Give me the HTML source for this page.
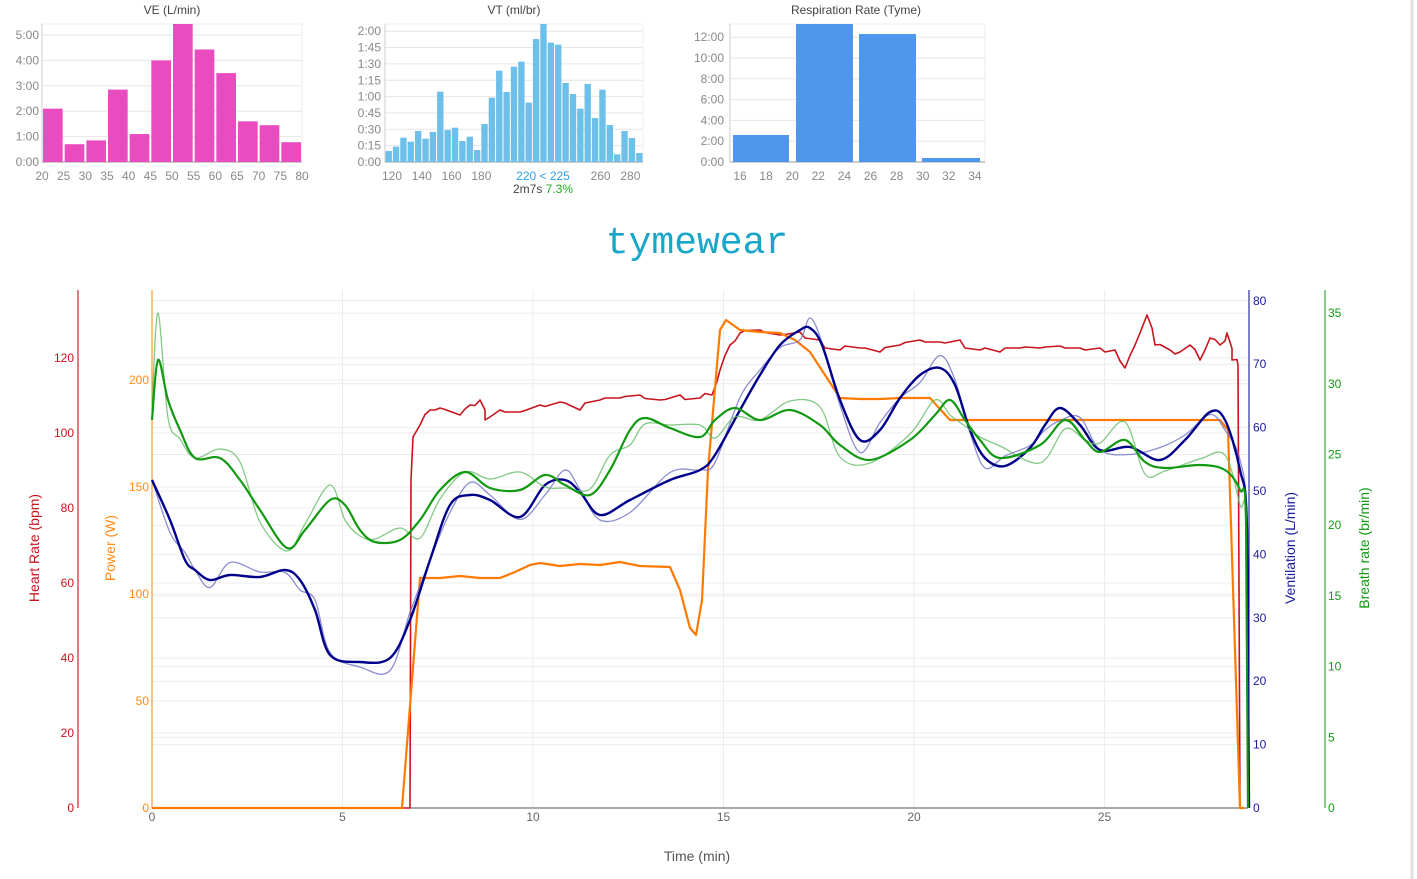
<!DOCTYPE html>
<html><head><meta charset="utf-8"><style>
body{margin:0;background:#fff;width:1417px;height:879px;overflow:hidden;font-family:"Liberation Sans",sans-serif}
svg{position:absolute;left:0;top:0}
</style></head><body>
<svg id="s" width="1417" height="879" xmlns="http://www.w3.org/2000/svg" font-family="Liberation Sans, sans-serif">
<line x1="1412" y1="0" x2="1412" y2="879" stroke="#e0e0e0" stroke-width="3"/>
<text x="172" y="14" font-size="12" fill="#444" text-anchor="middle">VE (L/min)</text>
<text x="514" y="14" font-size="12" fill="#444" text-anchor="middle">VT (ml/br)</text>
<text x="856" y="14" font-size="12" fill="#444" text-anchor="middle">Respiration Rate (Tyme)</text>
<text x="697" y="253" font-size="38" fill="#19a6c9" text-anchor="middle" font-family="Liberation Mono, monospace">tymewear</text>
<g id="g"></g>
<text x="697" y="861" font-size="14" fill="#555" text-anchor="middle">Time (min)</text>
<text transform="translate(39,548) rotate(-90)" font-size="14" fill="#c8141e" text-anchor="middle">Heart Rate (bpm)</text>
<text transform="translate(115,548) rotate(-90)" font-size="14" fill="#ff8a14" text-anchor="middle">Power (W)</text>
<text transform="translate(1295,548) rotate(-90)" font-size="14" fill="#1a1a9a" text-anchor="middle">Ventilation (L/min)</text>
<text transform="translate(1369,548) rotate(-90)" font-size="14" fill="#119911" text-anchor="middle">Breath rate (br/min)</text>
<text x="543" y="180" font-size="12" fill="#2aa0e6" text-anchor="middle">220 &lt; 225</text>
<text x="543" y="193" font-size="12" fill="#444" text-anchor="middle">2m7s <tspan fill="#22aa22">7.3%</tspan></text>
</svg>
<script>
var g=document.getElementById('g'),h='';
function L(x1,y1,x2,y2,c,w){h+='<line x1="'+x1+'" y1="'+y1+'" x2="'+x2+'" y2="'+y2+'" stroke="'+c+'" stroke-width="'+(w||1)+'"/>';}
function T(x,y,t,c,a,s){h+='<text x="'+x+'" y="'+y+'" font-size="'+(s||12)+'" fill="'+c+'" text-anchor="'+(a||'end')+'">'+t+'</text>';}
function R(x,y,w,hh,c){h+='<rect x="'+x+'" y="'+y+'" width="'+w+'" height="'+hh+'" fill="'+c+'"/>';}
function P(pts,c,w,o,sm){var d;
 if(sm){d='M'+pts[0][0]+' '+pts[0][1];for(var i=0;i<pts.length-1;i++){var p0=pts[Math.max(i-1,0)],p1=pts[i],p2=pts[i+1],p3=pts[Math.min(i+2,pts.length-1)];
  if(i>=pts.length-2){d+='L'+p2[0]+' '+p2[1];continue;}
  var c1x=p1[0]+(p2[0]-p0[0])/6,c1y=p1[1]+(p2[1]-p0[1])/6,c2x=p2[0]-(p3[0]-p1[0])/6,c2y=p2[1]-(p3[1]-p1[1])/6;
  d+='C'+c1x+' '+c1y+' '+c2x+' '+c2y+' '+p2[0]+' '+p2[1];}}
 else d=pts.map(function(p,i){return (i?'L':'M')+p[0]+' '+p[1]}).join('');
 h+='<path d="'+d+'" fill="none" stroke="'+c+'" stroke-width="'+w+'" opacity="'+(o||1)+'" stroke-linejoin="round"/>';}
function S(a){var r=[];for(var i=0;i<a.length;i+=2)r.push([a[i],a[i+1]]);return r;}
var x0=42,x1=302,b=162;
for(var i=0;i<=5;i++){var y=b-i*25.4;L(x0,y,x1,y,'#e6e6e6');T(39,y+4,i+':00','#888');}
L(x0,24,x1,24,'#eee');L(x1,24,x1,b,'#eee');L(x0,24,x0,b,'#ccc');L(x0,b,x1,b,'#999');
var ve=[2.1,0.7,0.85,2.85,1.1,4.0,5.45,4.43,3.5,1.6,1.45,0.78],bw=(x1-x0)/12;
ve.forEach(function(v,i){var hh=Math.min(v*25.4,138);R(x0+i*bw+1,b-hh,bw-2,hh,'#e84cbf');});
for(var i=0;i<=12;i++)T(x0+i*bw,180,20+i*5,'#888','middle');
x0=385;x1=643;
var vl=['0:00','0:15','0:30','0:45','1:00','1:15','1:30','1:45','2:00'];
for(var i=0;i<=8;i++){var y=b-i*16.35;L(x0,y,x1,y,'#e6e6e6');T(381,y+4,vl[i],'#888');}
L(x0,24,x1,24,'#eee');L(x1,24,x1,b,'#eee');L(x0,24,x0,b,'#ccc');L(x0,b,x1,b,'#999');
var vt=[453,440,413,425,393,416,396,275,390,383,423,410,450,372,293,212,276,200,185,308,117,72,128,134,249,282,326,252,354,269,375,463,393,414,459];
bw=(x1-x0)/vt.length;
vt.forEach(function(v,i){var t=Math.max(v/3,24);R(x0+i*bw+0.5,t,bw-1,b-t,'#6cc0ea');});
[120,140,160,180,260,280].forEach(function(v){T(392+(v-120)*1.49,180,v,'#888','middle');});
x0=730;x1=985;
for(var i=0;i<=6;i++){var y=b-i*20.8;L(x0,y,x1,y,'#e6e6e6');T(724,y+4,(i*2)+':00','#888');}
L(x0,24,x1,24,'#eee');L(x1,24,x1,b,'#eee');L(x0,24,x0,b,'#ccc');L(x0,b,x1,b,'#999');
R(733,135,56,27,'#4e97ec');R(796,24,57,138,'#4e97ec');R(859,34,57,128,'#4e97ec');R(922,158,58,4,'#4e97ec');
for(var i=0;i<10;i++)T(740+i*26.1,180,16+i*2,'#888','middle');
var px=152,pr=1248,pt=290,pb=808;
for(var v=0;v<=35;v+=5){var y=pb-v*14.14;L(px,y,pr,y,'#ececec');}
for(var v=0;v<=80;v+=10){var y=pb-v*6.34;L(px,y,pr,y,'#ececec');}
for(var v=0;v<=220;v+=50){var y=pb-v*2.14;L(px,y,pr,y,'#ececec');}
for(var v=0;v<=130;v+=20){var y=pb-v*3.75;L(px,y,pr,y,'#ececec');}
for(var m=0;m<=25;m+=5){var x=px+m*38.1;L(x,pt,x,pb,'#ececec');T(x,821,m,'#666','middle');}
L(78,pt,78,pb,'#b00000');for(var v=0;v<=120;v+=20)T(74,pb-v*3.75+4,v,'#c8141e');
L(152,pt,152,pb,'#ff8000');for(var v=0;v<=200;v+=50)T(149,pb-v*2.14+4,v,'#ff8a14');
L(1249,pt,1249,pb,'#00008b');for(var v=0;v<=80;v+=10)T(1253,pb-v*6.34+4,v,'#1a1a9a','start');
L(1325,pt,1325,pb,'#119911');for(var v=0;v<=35;v+=5)T(1328,pb-v*14.14+4,v,'#119911','start');
L(px,pb,pr,pb,'#555');
var hr=[152,808,410,808,411,480,413,437,420,425,430,410,440,408,460,415,470,405,480,400,485,420,500,410,520,412,540,405,560,402,580,410,600,400,620,398,640,395,660,400,680,395,700,398,712,395,720,370,730,345,740,333,760,330,780,335,800,332,820,340,840,350,860,348,880,352,900,345,920,340,940,342,960,340,980,350,1000,352,1020,348,1040,348,1060,346,1080,348,1100,348,1115,350,1125,368,1135,345,1147,315,1155,345,1170,350,1180,352,1190,345,1200,360,1210,338,1220,345,1227,333,1232,360,1238,365,1240,808];
var hn=[];for(var i=0;i<hr.length-2;i+=2){hn.push(hr[i],hr[i+1]);if(hr[i]>415&&hr[i]<1238){var k=(hr[i]*13)%7-3;hn.push(hr[i]+5,hr[i+1]+(hr[i+1]+hr[i+3])/2-hr[i+1]+k);}}
hn.push(hr[hr.length-2],hr[hr.length-1]);
P(S(hn),'#c8141e',1.6);
var pw=[152,808,402,808,420,578,440,578,460,576,480,578,500,578,515,572,530,565,540,563,560,566,580,564,600,565,620,562,640,566,670,567,680,590,690,628,696,635,702,600,708,470,714,400,720,330,726,320,740,330,760,332,780,333,795,340,810,352,825,375,840,398,860,399,880,399,900,398,930,398,950,420,980,420,1050,420,1100,420,1150,420,1220,420,1228,430,1240,808,1244,808];
P(S(pw),'#ffa050',1.2,0.7);P(S(pw),'#ff7a00',2.2);
var vn=[152,480,170,520,185,560,195,570,210,580,230,575,260,577,285,570,300,580,315,610,330,655,360,662,390,658,410,620,430,560,450,505,470,495,490,500,520,517,545,485,565,480,580,492,600,515,630,500,670,480,700,470,715,455,740,410,760,375,780,345,800,330,810,328,822,345,840,400,860,440,880,430,900,398,920,375,940,368,955,385,970,430,985,458,1005,466,1030,448,1045,425,1060,408,1080,425,1100,450,1130,447,1160,460,1185,440,1210,412,1225,420,1240,470,1247,530,1249,808];
var vr=vn.slice();for(var i=3;i<vr.length-2;i+=2)vr[i]+=((i*7)%11-5)*2.5;
P(S(vr),'#6f70c6',1.3,0.8,1);P(S(vn),'#00008b',2.4,1,1);
var br=[152,420,158,360,168,400,180,430,195,458,220,458,240,480,260,510,287,548,305,530,330,500,345,505,360,530,375,542,400,540,420,520,440,490,465,472,490,488,520,490,545,475,565,485,590,495,610,470,630,430,645,418,670,428,700,437,715,420,735,408,760,420,790,410,820,425,840,445,870,460,910,440,935,415,950,400,965,420,980,440,1000,458,1040,445,1065,420,1085,440,1100,452,1125,440,1145,462,1165,468,1200,465,1225,470,1240,490,1246,520,1248,808];
var bn=br.slice();for(var i=3;i<bn.length-2;i+=2)bn[i]+=((i*5)%13-6)*3;bn[1]=410;bn[3]=313;
P(S(bn),'#66bb66',1.3,0.8,1);P(S(br),'#119911',2.2,1,1);
g.innerHTML=h;
</script>
</body></html>
